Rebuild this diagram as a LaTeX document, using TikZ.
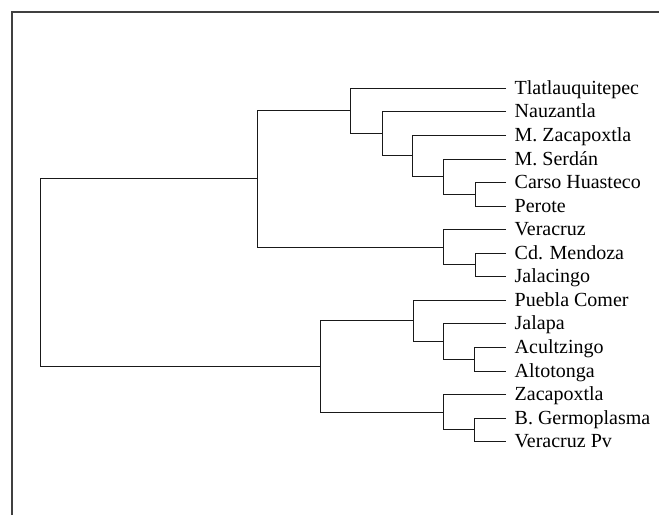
\documentclass[tikz,border=0pt]{standalone}
\usepackage{fontspec}
\setmainfont{Liberation Serif}
\begin{document}
\begin{tikzpicture}[x=1pt,y=-1pt,
  branch/.style={draw=black!90, line width=1.3pt},
  frameline/.style={draw=black!75, line width=1.6pt},
  leaf/.style={anchor=west, inner xsep=8.5pt, inner ysep=0pt, text height=14pt, text depth=2pt,
    font=\fontsize{20}{24}\selectfont}]
\useasboundingbox (0,0) rectangle (659,515);
\coordinate (fa) at (12,515);
\coordinate (fb) at (12,11.7);
\coordinate (fc) at (659,11.7);
\draw[frameline] (fa) -- (fb) -- (fc);
% leaves
\node[leaf] (l0)  at (506,88.5)  {Tlatlauquitepec};
\node[leaf] (l1)  at (506,111.5) {Nauzantla};
\node[leaf] (l2)  at (506,135.5) {M. Zacapoxtla};
\node[leaf] (l3)  at (506,159.5) {M. Serdán};
\node[leaf] (l4)  at (506,182.5) {Carso Huasteco};
\node[leaf] (l5)  at (506,206.5) {Perote};
\node[leaf] (l6)  at (506,229.5) {Veracruz};
\node[leaf] (l7)  at (506,253.5) {Cd. Mendoza};
\node[leaf] (l8)  at (506,276.5) {Jalacingo};
\node[leaf] (l9)  at (506,300.5) {Puebla Comer};
\node[leaf] (l10) at (506,323.5) {Jalapa};
\node[leaf] (l11) at (506,347.5) {Acultzingo};
\node[leaf] (l12) at (506,371.5) {Altotonga};
\node[leaf] (l13) at (506,394.5) {Zacapoxtla};
\node[leaf] (l14) at (506,418.5) {B. Germoplasma};
\node[leaf] (l15) at (506,441.5) {Veracruz Pv};
% joints
\coordinate (j45)   at (475.5,194.5);
\coordinate (j3)    at (443.5,176.5);
\coordinate (j2)    at (412.5,155.5);
\coordinate (j1)    at (382.5,133.5);
\coordinate (j0)    at (350.5,110.5);
\coordinate (j78)   at (475.5,264.5);
\coordinate (j6)    at (443.5,247.5);
\coordinate (jtop)  at (257.5,178.5);
\coordinate (j1112) at (474.5,359.5);
\coordinate (j10)   at (443.5,341.5);
\coordinate (j9)    at (413.5,320.5);
\coordinate (j1415) at (474.5,429.5);
\coordinate (j13)   at (443.5,412.5);
\coordinate (jbot)  at (320.5,366.5);
\coordinate (root)  at (40.5,272.5);
% branches
\draw[branch] (l4.west) -| (j45) |- (l5.west);
\draw[branch] (l3.west) -| (j3) |- (j45);
\draw[branch] (l2.west) -| (j2) |- (j3);
\draw[branch] (l1.west) -| (j1) |- (j2);
\draw[branch] (l0.west) -| (j0) |- (j1);
\draw[branch] (l7.west) -| (j78) |- (l8.west);
\draw[branch] (l6.west) -| (j6) |- (j78);
\draw[branch] (j0) -| (jtop) |- (j6);
\draw[branch] (l11.west) -| (j1112) |- (l12.west);
\draw[branch] (l10.west) -| (j10) |- (j1112);
\draw[branch] (l9.west) -| (j9) |- (j10);
\draw[branch] (l14.west) -| (j1415) |- (l15.west);
\draw[branch] (l13.west) -| (j13) |- (j1415);
\draw[branch] (j9) -| (jbot) |- (j13);
\draw[branch] (jtop) -| (root) |- (jbot);
\end{tikzpicture}
\end{document}
